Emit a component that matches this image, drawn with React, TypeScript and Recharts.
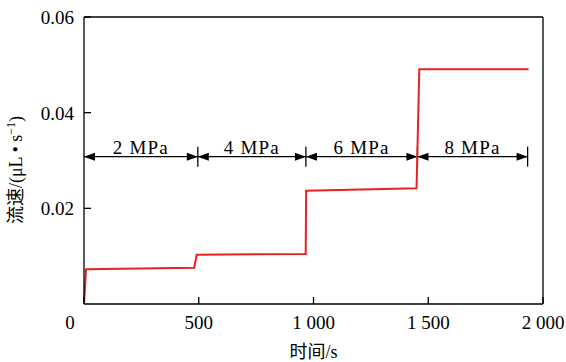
import React from "react";
import { LineChart, Line, XAxis, YAxis, ReferenceLine } from "recharts";

// flow rate vs time
const times = [0, 9, 480, 491, 966, 968, 1449, 1461, 1937];
const flow = [0, 0.00725, 0.0076, 0.0103, 0.01045, 0.0237, 0.0242, 0.0491, 0.0491];

const xTicks = [0, 500, 1000, 1500, 2000];
const yTicks = [0.02, 0.04, 0.06];

// pressure stages marked with arrows
const stageBounds = [0, 496, 967, 1453, 1933];
const stageLabels = ["2 MPa", "4 MPa", "6 MPa", "8 MPa"];
const arrowLevel = 0.0308;

const data = times.map((t, i) => ({ t, v: flow[i] }));

const FONT = '"Liberation Serif", "Times New Roman", serif';
const CJK = '"Liberation Serif", "Noto Sans CJK SC", serif';

const fmtX = (v: number) =>
  v >= 1000 ? `${Math.floor(v / 1000)} ${String(v % 1000).padStart(3, "0")}` : String(v);

function XTick({ x, y, payload }: any) {
  const v = payload.value as number;
  return (
    <text x={v === 0 ? x - 14 : x} y={y} dy={32} textAnchor="middle" style={{ fontFamily: FONT, fontSize: 19 }} fill="#000">
      {fmtX(v)}
    </text>
  );
}

function YTick({ x, y, payload }: any) {
  return (
    <text x={x - 17} y={y} dy={7} textAnchor="end" style={{ fontFamily: FONT, fontSize: 19 }} fill="#000">
      {String(payload.value)}
    </text>
  );
}

function StageArrow({ x1, y1, x2, label }: any) {
  const len = 11;
  const hw = 4;
  return (
    <g>
      <line x1={x1} y1={y1} x2={x2} y2={y1} stroke="#000" strokeWidth={1.3} />
      <polygon points={`${x1},${y1} ${x1 + len},${y1 - hw} ${x1 + len},${y1 + hw}`} fill="#000" />
      <polygon points={`${x2},${y1} ${x2 - len},${y1 - hw} ${x2 - len},${y1 + hw}`} fill="#000" />
      <line x1={x2} y1={y1 - 10} x2={x2} y2={y1 + 10} stroke="#000" strokeWidth={1.3} />
      <text
        x={(x1 + x2) / 2}
        y={y1 - 3}
        textAnchor="middle"
        style={{ fontFamily: FONT, fontSize: 19, letterSpacing: 1.2 }}
        fill="#000"
      >
        {label}
      </text>
    </g>
  );
}

export default function App() {
  return (
    <div style={{ position: "absolute", left: 0, top: 0, background: "#fff" }}>
      <LineChart width={566} height={362} data={data} margin={{ top: 16, right: 22, left: 0, bottom: 0 }}>
        <XAxis
          dataKey="t"
          type="number"
          domain={[0, 2000]}
          ticks={xTicks}
          tick={<XTick />}
          tickSize={-7}
          tickMargin={0}
          height={58}
          stroke="#000"
          strokeWidth={1.3}
          label={{ value: "时间/s", position: "insideBottom", offset: 4, style: { fontFamily: CJK, fontSize: 18 }, fill: "#000" }}
        />
        <XAxis xAxisId="top" orientation="top" type="number" domain={[0, 2000]} height={1} tick={false} tickLine={false} stroke="#000" strokeWidth={1.3} />
        <YAxis
          type="number"
          domain={[0, 0.06]}
          ticks={yTicks}
          tick={<YTick />}
          tickSize={-7}
          tickMargin={0}
          width={84}
          stroke="#000"
          strokeWidth={1.3}
        />
        <YAxis yAxisId="right" orientation="right" type="number" domain={[0, 0.06]} width={1} tick={false} tickLine={false} stroke="#000" strokeWidth={1.3} />
        <text x={22} y={170} transform="rotate(-90 22 170)" textAnchor="middle" style={{ fontFamily: CJK, fontSize: 18 }} fill="#000">
          流速/(μL • s<tspan dy={-7} style={{ fontSize: 12 }}>−1</tspan>
          <tspan dy={7}>)</tspan>
        </text>
        {stageLabels.map((lab, i) => (
          <ReferenceLine
            key={lab}
            segment={[
              { x: stageBounds[i], y: arrowLevel },
              { x: stageBounds[i + 1], y: arrowLevel },
            ]}
            shape={(p: any) => <StageArrow {...p} label={lab} />}
          />
        ))}
        <Line type="linear" dataKey="v" stroke="#e8221e" strokeWidth={2} dot={false} isAnimationActive={false} />
      </LineChart>
    </div>
  );
}
